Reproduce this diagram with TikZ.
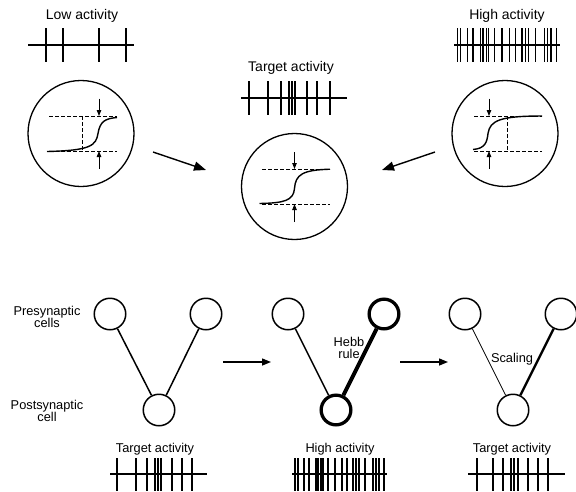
\documentclass[tikz,border=0pt]{standalone}
\usepackage{fontspec}
\setmainfont{Liberation Sans}
\usetikzlibrary{arrows.meta}
\tikzset{
  spike/.style={line width=1.3pt},
  lens/.style={circle,draw,line width=1.3pt,minimum size=106pt,inner sep=0pt},
  cell/.style={circle,draw,line width=1.5pt,minimum size=31.5pt,inner sep=0pt},
  boldcell/.style={cell,line width=3.3pt,minimum size=29.7pt},
  guide/.style={dash pattern=on 3.5pt off 2.5pt,line width=0.9pt},
  curve/.style={line width=1.4pt},
  tick/.style={line width=0.9pt,-{Triangle[length=6pt,width=4.5pt]}},
  bigarrow/.style={line width=1.4pt,-{Triangle[length=12pt,width=9pt]}},
  steparrow/.style={line width=1.4pt,-{Triangle[length=9pt,width=7pt]}},
  toplabel/.style={font=\fontsize{14}{14}\selectfont,anchor=base,inner sep=0pt},
  lowlabel/.style={font=\fontsize{12.8}{12}\selectfont,anchor=base,inner sep=0pt},
  sidelabel/.style={font=\fontsize{12.8}{12.2}\selectfont,anchor=north,inner sep=0pt,align=center},
}
\begin{document}
\begin{tikzpicture}[x=1pt,y=-1pt]
\useasboundingbox (0,0) rectangle (576,491);
% spike trains, top row
\node[toplabel] (lowtxt) at (82,19) {Low activity};
\draw[spike] (28,45) -- (134,45);
\foreach \s in {46,63,99,126} \draw[spike] (\s,28) -- (\s,62);
\node[toplabel] (hightxt) at (507,19) {High activity};
\draw[spike] (454,45) -- (560,45);
\foreach \s in {3.3,6.7,13.4,19,26.8,29,32.4,34.6,40.2,48,55.8,61.4,68,71.4,74.8,81.5,90.4,93.7,97,102.7}
  \draw[spike] ({454+\s},28) -- ({454+\s},62);
\node[toplabel] (targettxt) at (291,71.7) {Target activity};
\draw[spike] (241,98) -- (347,98);
\foreach \s in {249,268,281,289,292,295,307,317,330} \draw[spike] (\s,81) -- (\s,115);
% transfer curves
\node[lens] (lowlens) at (81,133.5) {};
\begin{scope}[shift={(lowlens.center)}]
\draw[guide] (-32,-17.5) -- (36,-17.5) (-32,17.5) -- (36,17.5) (1,-17.5) -- (1,17.5);
\draw[tick] (18,-35) -- (18,-17.5);
\draw[tick] (18,35) -- (18,17.5);
\draw[curve] (-34,18) .. controls (10,17) and (15,12) .. (17,0) .. controls (19,-12) and (24,-15) .. (36,-16);
\end{scope}
\node[lens] (highlens) at (505,133.5) {};
\begin{scope}[shift={(highlens.center)}]
\draw[guide] (-31,-17.5) -- (37,-17.5) (-31,17.5) -- (37,17.5) (2,-17.5) -- (2,17.5);
\draw[tick] (-16,-35) -- (-16,-17.5);
\draw[tick] (-16,35) -- (-16,17.5);
\draw[curve] (-32,16) .. controls (-20,15) and (-18,9) .. (-17,0) .. controls (-15,-13) and (-5,-17.5) .. (37,-17.5);
\end{scope}
\node[lens] (targetlens) at (294.5,186.5) {};
\begin{scope}[shift={(targetlens.center)}]
\draw[guide] (-32.5,-17.5) -- (35.5,-17.5) (-32.5,17.5) -- (35.5,17.5);
\draw[tick] (0,-34.5) -- (0,-17.5);
\draw[tick] (0,35.5) -- (0,17.5);
\draw[curve] (-35,17) .. controls (-10,16.5) and (-1,14) .. (0,2) .. controls (1,-12) and (8,-16.5) .. (35.5,-17.3);
\end{scope}
\coordinate (lowfrom) at (153,152);
\coordinate (lowto) at (206,170);
\coordinate (highfrom) at (435,152);
\coordinate (highto) at (382,170);
\draw[bigarrow] (lowfrom) -- (lowto);
\draw[bigarrow] (highfrom) -- (highto);
% networks
\node[sidelabel] (pretxt) at (47,306) {Presynaptic\\cells};
\node[sidelabel] (posttxt) at (47,400) {Postsynaptic\\cell};
\node[cell] (preA1) at (110,314) {};
\node[cell] (preB1) at (206,314) {};
\node[cell] (post1) at (159,410) {};
\draw[line width=1.5pt] (preA1) -- (post1) (preB1) -- (post1);
\node[cell] (preA2) at (288,314) {};
\node[boldcell] (preB2) at (384,314) {};
\node[boldcell] (post2) at (336,410) {};
\draw[line width=1.5pt] (preA2) -- (post2);
\draw[line width=4pt] (preB2) -- (post2);
\node[sidelabel] (hebbtxt) at (349,336.7) {Hebb\\rule};
\node[cell] (preA3) at (465,314) {};
\node[cell] (preB3) at (561,314) {};
\node[cell] (post3) at (513,410) {};
\draw[line width=0.7pt] (preA3) -- (post3);
\draw[line width=2.4pt] (preB3) -- (post3);
\node[lowlabel] (scaletxt) at (512,362.7) {Scaling};
\coordinate (stepA) at (223,362);
\coordinate (stepB) at (271,362);
\coordinate (stepC) at (400,362);
\coordinate (stepD) at (448,362);
\draw[steparrow] (stepA) -- (stepB);
\draw[steparrow] (stepC) -- (stepD);
% spike trains, bottom row
\node[lowlabel] (targettxtA) at (155,452) {Target activity};
\draw[spike] (110,474) -- (207,474);
\foreach \s in {7,26,37,45,48,51,62,72,82} \draw[spike] ({110+\s},458) -- ({110+\s},491);
\node[lowlabel] (hightxtB) at (340,452) {High activity};
\draw[spike] (292,474) -- (387,474);
\foreach \s in {3,6,12,17,24,26,29,31,36,43,50,55,61,64,67,73,81,84,87,92}
  \draw[spike] ({292+\s},458) -- ({292+\s},491);
\node[lowlabel] (targettxtC) at (512,452) {Target activity};
\draw[spike] (468,474) -- (565,474);
\foreach \s in {9,25,35,43,46,50,60,70,80} \draw[spike] ({468+\s},458) -- ({468+\s},491);
\end{tikzpicture}
\end{document}
